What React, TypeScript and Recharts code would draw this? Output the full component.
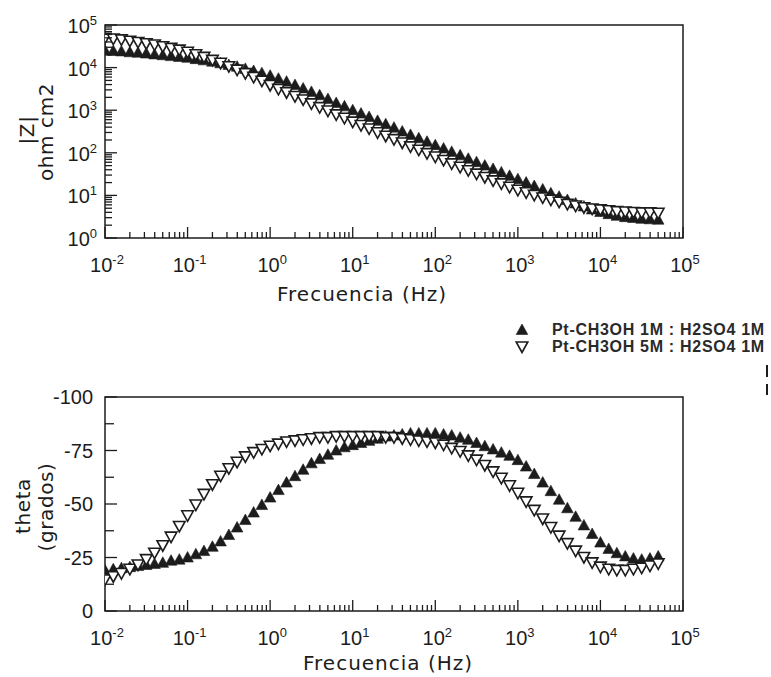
import React from "react";
import {
  ScatterChart,
  Scatter,
  XAxis,
  YAxis,
  ReferenceArea,
} from "recharts";

// frequencies (Hz), 10 points per decade
const FREQ = [
  0.01, 0.0126, 0.0158, 0.02, 0.0251, 0.0316, 0.0398, 0.0501, 0.0631, 0.0794,
  0.1, 0.126, 0.158, 0.2, 0.251, 0.316, 0.398, 0.501, 0.631, 0.794,
  1, 1.26, 1.58, 2, 2.51, 3.16, 3.98, 5.01, 6.31, 7.94,
  10, 12.6, 15.8, 20, 25.1, 31.6, 39.8, 50.1, 63.1, 79.4,
  100, 126, 158, 200, 251, 316, 398, 501, 631, 794,
  1000, 1260, 1580, 2000, 2510, 3160, 3980, 5010, 6310, 7940,
  10000, 12600, 15800, 20000, 25100, 31600, 39800, 50100,
];

// |Z| (ohm cm2)
const Z_1M = [
  25100, 24500, 24000, 22900, 22400, 21400, 20400, 19500, 18600, 17800,
  17000, 15800, 14800, 13800, 12600, 11500, 10500, 9330, 8320, 7410,
  6460, 5500, 4680, 3890, 3240, 2690, 2240, 1820, 1480, 1230,
  1000, 832, 692, 562, 468, 389, 316, 263, 219, 182,
  151, 126, 105, 87.1, 72.4, 60.3, 50.1, 41.7, 34.7, 28.8,
  24.0, 20.0, 16.6, 13.8, 11.2, 9.33, 7.76, 6.46, 5.5, 4.68,
  4.07, 3.63, 3.31, 3.09, 2.95, 2.82, 2.75, 2.69,
];
const Z_5M = [
  49000, 46800, 44700, 41700, 38900, 36300, 33900, 30900, 28200, 25700,
  22900, 20000, 17400, 14800, 12600, 10500, 8710, 7240, 5890, 4790,
  3800, 3090, 2570, 2090, 1740, 1410, 1150, 955, 776, 646,
  525, 437, 363, 295, 245, 204, 170, 138, 115, 95.5,
  79.4, 66.1, 55.0, 45.7, 38.0, 31.6, 26.3, 21.9, 18.6, 15.5,
  13.2, 11.5, 10.0, 8.71, 7.76, 6.92, 6.17, 5.62, 5.13, 4.79,
  4.57, 4.37, 4.17, 4.07, 3.98, 3.89, 3.89, 3.8,
];

// theta (grados)
const TH_1M = [
  -19, -19.5, -20, -20.5, -21, -21.5, -22, -22.5, -23.5, -24,
  -25, -26.5, -28, -30, -32.5, -35.5, -39, -42.5, -46, -49.5,
  -53, -56.5, -60, -63, -66, -69, -71, -73, -75, -76.5,
  -77.5, -78.5, -79.5, -80.5, -81.5, -82, -82.5, -83, -83, -83,
  -83, -82.5, -82, -81, -80, -78.5, -77, -75.5, -74, -72.5,
  -70.5, -67.5, -64, -60, -56, -52, -48, -44, -40, -36,
  -32, -29, -27, -25.5, -24.5, -24, -24.5, -25.5,
];
const TH_5M = [
  -14.5, -16, -17.5, -19.5, -21.5, -24, -27, -30.5, -34.5, -39.5,
  -44.5, -49.5, -54.5, -59, -63, -66.5, -69.5, -72, -74, -75.5,
  -77, -78, -79, -79.5, -80, -80.5, -81, -81, -81.5, -81.5,
  -81.5, -81.5, -81.5, -81.5, -81, -81, -80.5, -80, -79.5, -79,
  -78.5, -77.5, -76, -74.5, -72.5, -70.5, -68, -65, -62, -58.5,
  -55, -51, -47, -43, -39, -35, -31.5, -28, -25, -22.5,
  -20.5, -19.5, -19, -19, -19.5, -20, -21, -22,
];

const X_TICKS = [
  0.01, 0.02, 0.03, 0.04, 0.05, 0.06, 0.07, 0.08, 0.09,
  0.1, 0.2, 0.3, 0.4, 0.5, 0.6, 0.7, 0.8, 0.9,
  1, 2, 3, 4, 5, 6, 7, 8, 9,
  10, 20, 30, 40, 50, 60, 70, 80, 90,
  100, 200, 300, 400, 500, 600, 700, 800, 900,
  1000, 2000, 3000, 4000, 5000, 6000, 7000, 8000, 9000,
  10000, 20000, 30000, 40000, 50000, 60000, 70000, 80000, 90000,
  100000,
];
const Z_TICKS = [
  1, 2, 3, 4, 5, 6, 7, 8, 9,
  10, 20, 30, 40, 50, 60, 70, 80, 90,
  100, 200, 300, 400, 500, 600, 700, 800, 900,
  1000, 2000, 3000, 4000, 5000, 6000, 7000, 8000, 9000,
  10000, 20000, 30000, 40000, 50000, 60000, 70000, 80000, 90000,
  100000,
];
const TH_TICKS = [-100, -87.5, -75, -62.5, -50, -37.5, -25, -12.5, 0];

const LEGEND = ["Pt-CH3OH 1M : H2SO4 1M", "Pt-CH3OH 5M : H2SO4 1M"];

const zData1 = FREQ.map((f, i) => ({ f, v: Z_1M[i] }));
const zData5 = FREQ.map((f, i) => ({ f, v: Z_5M[i] }));
const tData1 = FREQ.map((f, i) => ({ f, v: TH_1M[i] }));
const tData5 = FREQ.map((f, i) => ({ f, v: TH_5M[i] }));

const INK = "#1c1c1c";
const NUM_FONT = "'Liberation Sans', Arial, sans-serif";
const TITLE_FONT = "'DejaVu Sans', sans-serif";
const MARGIN = 6;

const isDecade = (v: number) => {
  const l = Math.log10(v);
  return Math.abs(l - Math.round(l)) < 1e-6;
};

const Pow = ({ x, y, e, anchor }: any) => (
  <text x={x} y={y} textAnchor={anchor} fill={INK} fontFamily={NUM_FONT} fontSize={20}>
    10
    <tspan dy={-8} fontSize={13}>
      {e}
    </tspan>
  </text>
);

const XTick = (props: any) => {
  const { x, y, payload } = props;
  const v = payload.value;
  const major = isDecade(v);
  const axisY = y - MARGIN;
  return (
    <g>
      <line x1={x} x2={x} y1={axisY} y2={axisY - (major ? 11 : 6)} stroke={INK} strokeWidth={1.3} />
      {major && <Pow x={x + 2} y={axisY + 34} e={Math.round(Math.log10(v))} anchor="middle" />}
    </g>
  );
};

const ZTick = (props: any) => {
  const { x, y, payload } = props;
  const v = payload.value;
  const major = isDecade(v);
  const axisX = x + MARGIN;
  return (
    <g>
      <line x1={axisX} x2={axisX + (major ? 12 : 7)} y1={y} y2={y} stroke={INK} strokeWidth={1.3} />
      {major && <Pow x={axisX - 8} y={y + 8} e={Math.round(Math.log10(v))} anchor="end" />}
    </g>
  );
};

const ThTick = (props: any) => {
  const { x, y, payload } = props;
  const v = payload.value;
  const major = v % 25 === 0;
  const axisX = x + MARGIN;
  return (
    <g>
      <line x1={axisX} x2={axisX + (major ? 12 : 9)} y1={y} y2={y} stroke={INK} strokeWidth={1.3} />
      {major && (
        <text x={axisX - 12} y={y + 7} textAnchor="end" fill={INK} fontFamily={NUM_FONT} fontSize={20}>
          {v}
        </text>
      )}
    </g>
  );
};

const upTri = (p: any) => (
  <polygon
    points={`${p.cx},${p.cy - 6} ${p.cx + 5.8},${p.cy + 4.5} ${p.cx - 5.8},${p.cy + 4.5}`}
    fill={INK}
    stroke={INK}
    strokeWidth={0.6}
    strokeLinejoin="round"
  />
);
const downTri = (p: any) => (
  <polygon
    points={`${p.cx - 5.8},${p.cy - 5} ${p.cx + 5.8},${p.cy - 5} ${p.cx},${p.cy + 5.5}`}
    fill="#fff"
    stroke={INK}
    strokeWidth={1.6}
  />
);

const titleStyle: React.CSSProperties = {
  position: "absolute",
  fontFamily: TITLE_FONT,
  fontSize: 20,
  color: INK,
  whiteSpace: "nowrap",
  letterSpacing: 1,
};

const VLabel = ({ cx, cy, text }: { cx: number; cy: number; text: string }) => (
  <div
    style={{
      ...titleStyle,
      letterSpacing: 0.6,
      left: cx,
      top: cy,
      transform: "translate(-50%, -50%) rotate(-90deg)",
    }}
  >
    {text}
  </div>
);

export default function App() {
  return (
    <div style={{ position: "relative", width: 771, height: 677, background: "#fff", overflow: "hidden" }}>
      <style>{"body{margin:0}"}</style>

      <div style={{ position: "absolute", left: 0, top: 0 }}>
        <ScatterChart width={771} height={320} margin={{ top: 25, right: 88, bottom: 52, left: 55 }}>
          <XAxis
            type="number"
            dataKey="f"
            scale="log"
            domain={[0.01, 100000]}
            ticks={X_TICKS}
            interval={0}
            tick={<XTick />}
            tickLine={false}
            tickSize={0}
            tickMargin={MARGIN}
            axisLine={false}
            height={30}
            allowDataOverflow
          />
          <YAxis
            type="number"
            dataKey="v"
            scale="log"
            domain={[1, 100000]}
            ticks={Z_TICKS}
            interval={0}
            tick={<ZTick />}
            tickLine={false}
            tickSize={0}
            tickMargin={MARGIN}
            axisLine={false}
            width={50}
            allowDataOverflow
          />
          <ReferenceArea
            x1={0.01}
            x2={100000}
            y1={1}
            y2={100000}
            stroke={INK}
            strokeWidth={1.5}
            fill="none"
            fillOpacity={0}
          />
          <Scatter data={zData1} shape={upTri} isAnimationActive={false} />
          <Scatter data={zData5} shape={downTri} isAnimationActive={false} />
        </ScatterChart>
      </div>

      <div style={{ position: "absolute", left: 0, top: 340 }}>
        <ScatterChart width={771} height={337} margin={{ top: 57, right: 88, bottom: 36, left: 55 }}>
          <XAxis
            type="number"
            dataKey="f"
            scale="log"
            domain={[0.01, 100000]}
            ticks={X_TICKS}
            interval={0}
            tick={<XTick />}
            tickLine={false}
            tickSize={0}
            tickMargin={MARGIN}
            axisLine={false}
            height={30}
            allowDataOverflow
          />
          <YAxis
            type="number"
            dataKey="v"
            domain={[-100, 0]}
            reversed
            ticks={TH_TICKS}
            interval={0}
            tick={<ThTick />}
            tickLine={false}
            tickSize={0}
            tickMargin={MARGIN}
            axisLine={false}
            width={50}
            allowDataOverflow
          />
          <ReferenceArea
            x1={0.01}
            x2={100000}
            y1={-100}
            y2={0}
            stroke={INK}
            strokeWidth={1.5}
            fill="none"
            fillOpacity={0}
          />
          <Scatter data={tData1} shape={upTri} isAnimationActive={false} />
          <Scatter data={tData5} shape={downTri} isAnimationActive={false} />
        </ScatterChart>
      </div>

      {/* axis titles */}
      <div style={{ ...titleStyle, left: 277, top: 282 }}>Frecuencia (Hz)</div>
      <div style={{ ...titleStyle, left: 303, top: 651 }}>Frecuencia (Hz)</div>
      <VLabel cx={27} cy={130} text="|Z|" />
      <VLabel cx={46} cy={132} text="ohm cm2" />
      <VLabel cx={23} cy={506} text="theta" />
      <VLabel cx={46} cy={507} text="(grados)" />

      {/* legend */}
      {LEGEND.map((label, i) => (
        <div
          key={label}
          style={{
            position: "absolute",
            left: 514,
            top: 321 + i * 17,
            display: "flex",
            alignItems: "center",
            fontFamily: NUM_FONT,
            fontSize: 16,
            fontWeight: 700,
            color: "#2a2a2a",
            whiteSpace: "nowrap",
            letterSpacing: 0.7,
          }}
        >
          <svg width={16} height={16} style={{ marginRight: 22 }}>
            {i === 0
              ? upTri({ cx: 8, cy: 8 })
              : downTri({ cx: 8, cy: 8 })}
          </svg>
          {label}
        </div>
      ))}
      <div style={{ position: "absolute", left: 766, top: 365, width: 1.5, height: 12, background: INK }} />
      <div style={{ position: "absolute", left: 766, top: 384, width: 1.5, height: 11, background: INK }} />
    </div>
  );
}
